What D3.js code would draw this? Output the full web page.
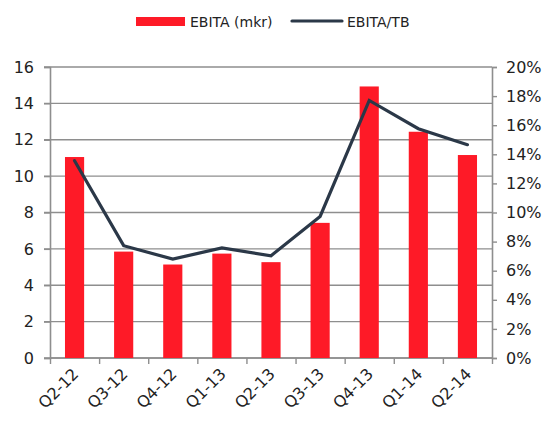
<!DOCTYPE html>
<html>
<head>
<meta charset="utf-8">
<script src="https://cdn.jsdelivr.net/npm/d3@7"></script>
<style>
  body { margin: 0; background: #fff; }
  text { font-family: "DejaVu Sans", sans-serif; fill: #222; }
</style>
</head>
<body>
<div id="chart"></div>
<script>
// quarters and values
var quarters = ["Q2-12", "Q3-12", "Q4-12", "Q1-13", "Q2-13", "Q3-13", "Q4-13", "Q1-14", "Q2-14"];
var ebita = [11.05, 5.85, 5.14, 5.74, 5.27, 7.43, 14.93, 12.44, 11.16];
var ebitaTb = [0.1356, 0.0772, 0.068, 0.0756, 0.0703, 0.0973, 0.177, 0.1576, 0.1466];
var leftTicks = [0, 2, 4, 6, 8, 10, 12, 14, 16];
var rightTicks = [0, 0.02, 0.04, 0.06, 0.08, 0.10, 0.12, 0.14, 0.16, 0.18, 0.20];

var W = 547, H = 421;
var margin = {top: 67, right: 55, bottom: 63, left: 50};
var width = W - margin.left - margin.right,
    height = H - margin.top - margin.bottom;

var svg = d3.select("#chart").append("svg")
    .attr("width", W)
    .attr("height", H);

var g = svg.append("g")
    .attr("transform", "translate(" + margin.left + "," + margin.top + ")");

var x = d3.scaleBand().domain(quarters).range([0, width]).paddingInner(0.61).paddingOuter(0.305);
var xTick = d3.scalePoint().domain(d3.range(quarters.length + 1)).range([0, width]);
var yL = d3.scaleLinear().domain([0, 16]).range([height, 0]);
var yR = d3.scaleLinear().domain([0, 0.2]).range([height, 0]);

var gridColor = "#8e8e8e";

// gridlines
g.selectAll("line.grid")
    .data(leftTicks)
  .enter().append("line")
    .attr("class", "grid")
    .attr("x1", -6).attr("x2", width)
    .attr("y1", function(d) { return yL(d); })
    .attr("y2", function(d) { return yL(d); })
    .attr("stroke", gridColor)
    .attr("stroke-width", 1.4);

// left axis
var leftAxis = g.append("g")
    .call(d3.axisLeft(yL).tickValues(leftTicks).tickSize(6).tickPadding(10));
// right axis
var rightAxis = g.append("g")
    .attr("transform", "translate(" + width + ",0)")
    .call(d3.axisRight(yR).tickValues(rightTicks).tickSize(5).tickPadding(9)
      .tickFormat(function(d) { return Math.round(d * 100) + "%"; }));
// bottom axis ticks
var bottomAxis = g.append("g")
    .attr("transform", "translate(0," + height + ")")
    .call(d3.axisBottom(xTick).tickSize(6).tickFormat(""));

[leftAxis, rightAxis, bottomAxis].forEach(function(a) {
  a.select(".domain").attr("stroke", gridColor).attr("stroke-width", 1.6);
  a.selectAll(".tick line").attr("stroke", gridColor).attr("stroke-width", 1.4);
  a.selectAll("text").style("font-size", "16px").attr("fill", "#222");
});
bottomAxis.select(".domain").attr("d", "M0,0H" + width);

// bars
g.selectAll("rect.bar")
    .data(ebita)
  .enter().append("rect")
    .attr("class", "bar")
    .attr("x", function(d, i) { return x(quarters[i]); })
    .attr("width", x.bandwidth())
    .attr("y", function(d) { return yL(d); })
    .attr("height", function(d) { return height - yL(d); })
    .attr("fill", "#fe1a27");

// line
var line = d3.line()
    .x(function(d, i) { return x(quarters[i]) + x.bandwidth() / 2; })
    .y(function(d) { return yR(d); });

g.append("path")
    .datum(ebitaTb)
    .attr("d", line)
    .attr("fill", "none")
    .attr("stroke", "#2b3848")
    .attr("stroke-width", 3.2)
    .attr("stroke-linejoin", "miter")
    .attr("stroke-linecap", "round");

// x labels rotated
g.selectAll("text.xlab")
    .data(quarters)
  .enter().append("text")
    .attr("class", "xlab")
    .attr("text-anchor", "end")
    .style("font-size", "16px")
    .attr("transform", function(d) {
      return "translate(" + (x(d) + x.bandwidth() / 2 + 5) + "," + (height + 17) + ") rotate(-45)";
    })
    .text(function(d) { return d; });

// legend
var legend = svg.append("g");
legend.append("rect")
    .attr("x", 136).attr("y", 17)
    .attr("width", 49).attr("height", 9)
    .attr("fill", "#fe1a27");
legend.append("text")
    .attr("x", 190).attr("y", 27)
    .style("font-size", "14px")
    .text("EBITA (mkr)");
legend.append("line")
    .attr("x1", 292).attr("x2", 342)
    .attr("y1", 21).attr("y2", 21)
    .attr("stroke", "#2b3848")
    .attr("stroke-width", 3.2)
    .attr("stroke-linecap", "round");
legend.append("text")
    .attr("x", 347).attr("y", 27)
    .style("font-size", "14px")
    .text("EBITA/TB");
</script>
</body>
</html>
